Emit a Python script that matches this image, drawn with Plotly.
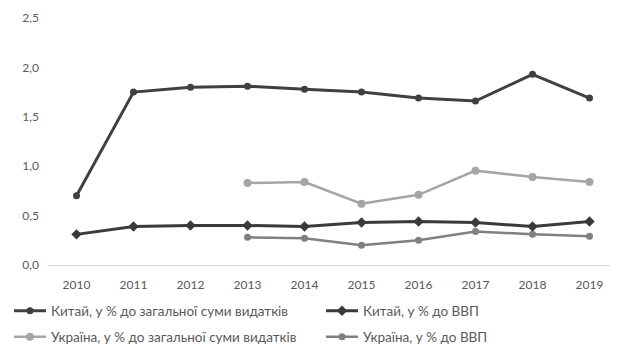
import plotly.graph_objects as go

years = ["2010", "2011", "2012", "2013", "2014", "2015", "2016", "2017", "2018", "2019"]
china_total = [0.70, 1.75, 1.80, 1.81, 1.78, 1.75, 1.69, 1.66, 1.93, 1.69]
china_gdp = [0.31, 0.39, 0.40, 0.40, 0.39, 0.43, 0.44, 0.43, 0.39, 0.44]
ukraine_total = [None, None, None, 0.83, 0.84, 0.62, 0.71, 0.955, 0.89, 0.84]
ukraine_gdp = [None, None, None, 0.28, 0.27, 0.20, 0.25, 0.34, 0.31, 0.29]
y_ticks = [0, 0.5, 1.0, 1.5, 2.0, 2.5]

names = [
    "Китай, у % до загальної суми видатків",
    "Китай, у % до ВВП",
    "Україна, у % до загальної суми видатків",
    "Україна, у % до ВВП",
]

W, H = 610, 346

fig = go.Figure()
fig.add_trace(go.Scatter(x=years, y=china_total, name=names[0], mode="lines+markers",
                         line=dict(color="#404040", width=3), marker=dict(symbol="circle", size=7),
                         legend="legend", showlegend=True))
fig.add_trace(go.Scatter(x=years, y=china_gdp, name=names[1], mode="lines+markers",
                         line=dict(color="#3a3a3a", width=3), marker=dict(symbol="diamond", size=8),
                         legend="legend2", showlegend=True))
fig.add_trace(go.Scatter(x=years, y=ukraine_total, name=names[2], mode="lines+markers",
                         line=dict(color="#a5a5a5", width=2.5), marker=dict(symbol="circle", size=8),
                         legend="legend3", showlegend=True))
fig.add_trace(go.Scatter(x=years, y=ukraine_gdp, name=names[3], mode="lines+markers",
                         line=dict(color="#808080", width=2.5), marker=dict(symbol="circle", size=7),
                         legend="legend4", showlegend=True))

legfont = dict(family="Lato, sans-serif", size=13.5, color="#595959")
common_leg = dict(orientation="h", xref="container", yref="container", xanchor="left",
                  yanchor="middle", font=legfont, bgcolor="rgba(0,0,0,0)", itemwidth=32)
fig.update_layout(
    width=W, height=H,
    showlegend=True,
    margin=dict(l=40, r=0, t=10, b=89, autoexpand=False),
    paper_bgcolor="white", plot_bgcolor="white",
    separators=", ",
    font=dict(family="Lato, sans-serif", size=12, color="#595959"),
    xaxis=dict(type="category", range=[-0.5, 9.5], showgrid=False, showline=False,
               ticks="", automargin=False, ticklabelstandoff=11,
               tickfont=dict(size=12, color="#595959")),
    yaxis=dict(range=[0, 2.5], tickvals=y_ticks, tickformat=".1f", showgrid=False,
               zeroline=True, zerolinecolor="#d9d9d9", zerolinewidth=1, automargin=False,
               ticks="", ticklabelstandoff=8,
               tickfont=dict(size=12, color="#595959")),
    legend=dict(x=1 / W, y=43 / H, **common_leg),
    legend2=dict(x=313 / W, y=43 / H, **common_leg),
    legend3=dict(x=1 / W, y=17 / H, **common_leg),
    legend4=dict(x=313 / W, y=17 / H, **common_leg),
)

fig.write_html("out.html")
